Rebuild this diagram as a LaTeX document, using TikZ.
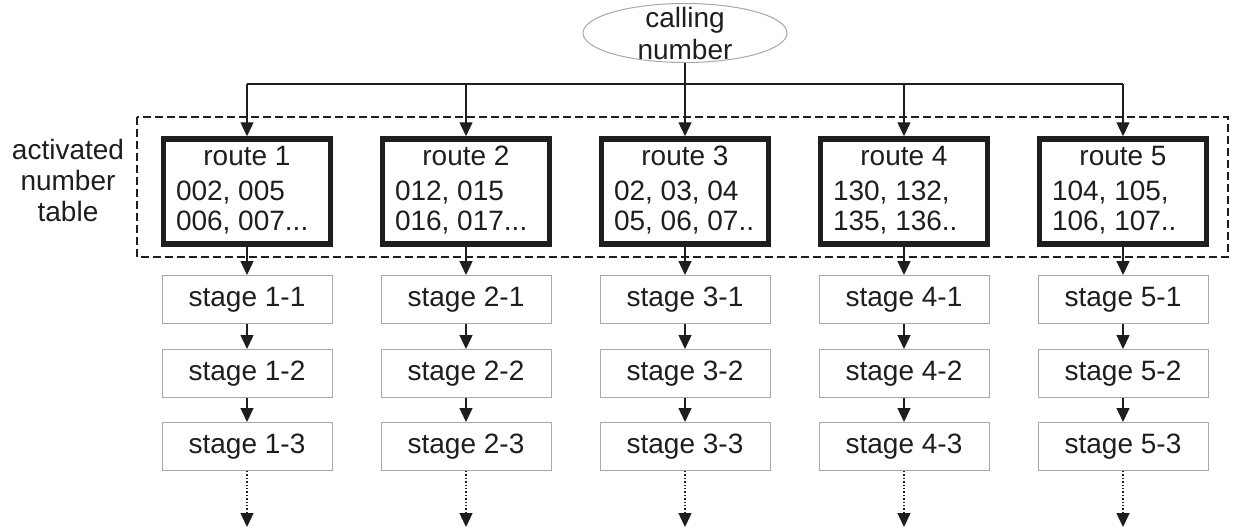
\documentclass[tikz,border=0pt]{standalone}
\usepackage{fontspec}
\setmainfont{Liberation Sans}
\usetikzlibrary{arrows.meta,shapes.geometric}
\definecolor{ink}{HTML}{1E1E1E}
\definecolor{grayline}{HTML}{A8A8A8}
\begin{document}
\begin{tikzpicture}[x=1pt,y=-1pt,
  every node/.style={font=\fontsize{28}{30}\selectfont, text=ink},
  conn/.style={draw=ink, line width=1.4pt, -{Triangle[width=13pt,length=14pt]}},
  dotconn/.style={draw=ink, line width=1.4pt, dotted, -{Triangle[width=13pt,length=14pt]}},
  routebox/.style={draw=ink, line width=5.5pt, minimum width=167pt, minimum height=105pt, inner sep=0pt},
  stagebox/.style={draw=grayline, line width=1pt, minimum width=170pt, minimum height=48pt, inner sep=0pt},
  callell/.style={ellipse, draw=grayline, line width=1pt, minimum width=204pt, minimum height=59pt, inner sep=0pt}
]
\useasboundingbox (0,0) rectangle (1234,528);

% calling number
\node[callell, label={[align=center, font=\fontsize{28}{32}\selectfont, text=ink]center:calling\\number}] (cn) at (685,33) {};

% dashed activated number table frame
\draw[ink, line width=1.4pt, dash pattern=on 8pt off 4pt] (137,117) rectangle (1228,257);
\node[align=center, font=\fontsize{28}{31}\selectfont] (tbl) at (68,180) {activated\\number\\table};

% route boxes
\newcommand{\routetext}[3]{\begin{tabular}{@{}p{142pt}@{}}\multicolumn{1}{@{}c@{}}{#1}\\[5pt]#2\\#3\end{tabular}}
\foreach \i/\x/\a/\b in {1/247/{002, 005}/{006, 007...},
                          2/466/{012, 015}/{016, 017...},
                          3/685/{02, 03, 04}/{05, 06, 07..},
                          4/904/{130, 132,}/{135, 136..},
                          5/1123/{104, 105,}/{106, 107..}} {
  \node[routebox] (r\i) at (\x,191.5) {\routetext{route \i}{\a}{\b}};
  \node[stagebox] (s\i a) at (\x,299.5) {stage \i-1};
  \node[stagebox] (s\i b) at (\x,373.5) {stage \i-2};
  \node[stagebox] (s\i c) at (\x,446.5) {stage \i-3};
  \coordinate (e\i) at (\x,527);
  \draw[conn] (r\i) -- (s\i a);
  \draw[conn] (s\i a) -- (s\i b);
  \draw[conn] (s\i b) -- (s\i c);
  \draw[dotconn] (s\i c) -- (e\i);
}

% bus from calling number
\coordinate (bus) at (685,84);
\draw[ink, line width=1.4pt] (r1.north |- bus) -- (r5.north |- bus);
\draw[conn] (cn.south) -- (r3.north);
\foreach \i in {1,2,4,5} {
  \draw[conn] (r\i.north |- bus) -- (r\i.north);
}
\end{tikzpicture}
\end{document}
